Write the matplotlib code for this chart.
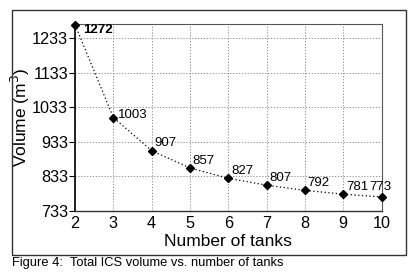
import matplotlib.pyplot as plt
from matplotlib.patches import Rectangle

tanks = [2, 3, 4, 5, 6, 7, 8, 9, 10]
volume = [1272, 1003, 907, 857, 827, 807, 792, 781, 773]
yticks = [733, 833, 933, 1033, 1133, 1233]

plt.rcParams['font.family'] = ['Liberation Sans', 'DejaVu Sans']

fig = plt.figure(figsize=(4.17, 2.74), dpi=100)
ax = fig.add_axes([0.180, 0.231, 0.735, 0.681])

ax.plot(tanks, volume, color='black', linestyle=(0, (1, 2)), linewidth=0.9,
        marker='D', markersize=4.5, markerfacecolor='black', markeredgecolor='black',
        clip_on=False, zorder=3)

for i, (x, y) in enumerate(zip(tanks, volume)):
    if i == 0:
        ax.annotate(str(y), (x, y), xytext=(6, -4), textcoords='offset points',
                    ha='left', va='center', fontsize=9.5, fontweight='bold')
    elif i == len(tanks) - 1:
        ax.annotate(str(y), (x, y), xytext=(-1, 3), textcoords='offset points',
                    ha='center', va='bottom', fontsize=9.5)
    elif i == 1:
        ax.annotate(str(y), (x, y), xytext=(3, 2), textcoords='offset points',
                    ha='left', va='center', fontsize=9.5)
    else:
        ax.annotate(str(y), (x, y), xytext=(2, 1), textcoords='offset points',
                    ha='left', va='bottom', fontsize=9.5)

ax.set_xlim(2, 10)
ax.set_ylim(733, 1274)
ax.set_xticks(tanks)
ax.set_yticks(yticks)
ax.tick_params(axis='both', labelsize=11.7, colors='black')
ax.tick_params(axis='x', length=0, pad=4)
ax.tick_params(axis='y', length=4, width=0.8, pad=1)

ax.grid(True, color='#8a8a8a', linestyle=(0, (1.2, 1.8)), linewidth=0.7)
ax.set_axisbelow(True)

ax.spines['left'].set_linewidth(1.2)
ax.spines['bottom'].set_linewidth(1.0)
ax.spines['bottom'].set_color('#333333')
ax.spines['top'].set_color('#555555')
ax.spines['right'].set_color('#555555')
ax.spines['top'].set_linewidth(0.8)
ax.spines['right'].set_linewidth(0.8)

ax.set_xlabel('Number of tanks', fontsize=12.5, labelpad=2)
ax.set_ylabel('Volume (m$^3$)', fontsize=12.5)
ax.yaxis.set_label_coords(-0.14, 0.5)

frame = Rectangle((0.0276, 0.0693), 0.946, 0.894, transform=fig.transFigure,
                  fill=False, edgecolor='#333333', linewidth=1.0)
fig.patches.append(frame)

fig.text(0.029, 0.040, 'Figure 4:  Total ICS volume vs. number of tanks',
         fontsize=9.3, ha='left', va='center')

fig.savefig('out.png', dpi=100)
